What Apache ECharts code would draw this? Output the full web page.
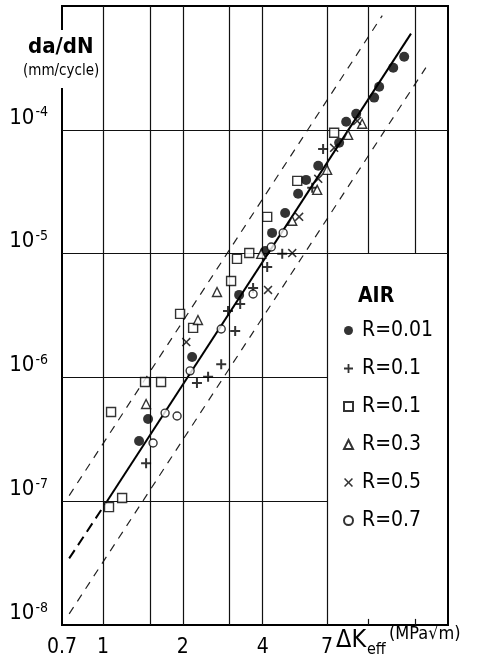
<!DOCTYPE html>
<html>
<head>
<meta charset="utf-8">
<script src="https://cdn.jsdelivr.net/npm/echarts@6/dist/echarts.min.js"></script>
<style>
html, body { margin: 0; padding: 0; background: #fff; }
#main { width: 487px; height: 663px; }
</style>
</head>
<body>
<div id="main"></div>
<script>
// tick labels and grid positions
var xTicks = [0.7, 1, 2, 4, 7];
var yTicks = [1e-8, 1e-7, 1e-6, 1e-5, 1e-4];
var xGridFull = [1, 1.5, 2, 3, 4, 7];
var xGridTop = [10, 15];
var yGridFull = [1e-5, 1e-4];
var yGridLeft = [1e-7, 1e-6];

// data: [dK_eff, da/dN]
var r001 = [[1.367, 3.06e-7], [1.478, 4.61e-7], [2.167, 1.46e-6], [3.26, 4.64e-6], [4.09, 1.05e-5],
  [4.34, 1.47e-5], [4.86, 2.13e-5], [5.44, 3.04e-5], [5.83, 3.94e-5], [6.48, 5.12e-5], [7.77, 7.85e-5],
  [8.26, 1.16e-4], [9.01, 1.35e-4], [10.53, 1.82e-4], [11.0, 2.23e-4], [12.43, 3.17e-4], [13.67, 3.89e-4]];
var r01plus = [[1.453, 2.03e-7], [2.26, 9.02e-7], [2.49, 1.01e-6], [2.79, 1.28e-6], [2.96, 3.44e-6],
  [3.15, 2.37e-6], [3.29, 3.92e-6], [3.68, 5.28e-6], [4.16, 7.8e-6], [4.74, 9.95e-6], [6.15, 3.4e-5], [6.76, 7.0e-5]];
var r01sq = [[1.053, 8.95e-8], [1.18, 1.06e-7], [1.072, 5.25e-7], [1.44, 9.18e-7], [1.655, 9.18e-7],
  [1.952, 3.26e-6], [2.186, 2.51e-6], [3.04, 6.01e-6], [3.20, 9.06e-6], [3.56, 1.01e-5], [4.16, 1.98e-5],
  [5.40, 3.87e-5], [7.44, 9.46e-5]];
var r03 = [[1.453, 6.1e-7], [2.28, 2.91e-6], [2.69, 4.9e-6], [3.95, 9.95e-6], [5.17, 1.84e-5],
  [6.42, 3.27e-5], [7.0, 4.75e-5], [8.40, 9.1e-5], [9.49, 1.12e-4]];
var r05 = [[2.06, 1.93e-6], [4.19, 5.09e-6], [5.17, 1.01e-5], [5.49, 1.98e-5], [6.48, 4.02e-5],
  [7.44, 7.15e-5], [9.09, 1.18e-4]];
var r07 = [[1.544, 2.95e-7], [1.714, 5.15e-7], [1.902, 4.88e-7], [2.13, 1.13e-6], [2.79, 2.46e-6],
  [3.68, 4.72e-6], [4.31, 1.13e-5], [4.78, 1.47e-5]];

// fitted band
var midLine = [[1.035, 1e-7], [14.5, 5.98e-4]];
var midExt = [[0.745, 3.45e-8], [1.035, 1e-7]];
var upperLine = [[0.745, 1.11e-7], [11.3, 8.37e-4]];
var lowerLine = [[0.745, 1.23e-8], [16.5, 3.18e-4]];

var FONT = "'Liberation Sans Narrow','DejaVu Sans Condensed','Liberation Sans',sans-serif";
var PLUS = 'path://M4,0H6V4H10V6H6V10H4V6H0V4H4Z';
var CROSS = 'path://M1.2,0L5,3.8L8.8,0L10,1.2L6.2,5L10,8.8L8.8,10L5,6.2L1.2,10L0,8.8L3.8,5L0,1.2Z';

var gridLines = [];
xGridFull.forEach(function (v) { gridLines.push({ xAxis: v }); });
xGridTop.forEach(function (v) {
  gridLines.push([{ coord: [v, 1e-5] }, { coord: [v, 1e-3] }]);
  gridLines.push([{ coord: [v, 1e-8] }, { coord: [v, 1.12e-8] }]);
});
yGridFull.forEach(function (v) { gridLines.push([{ coord: [0.7, v] }, { coord: [20, v] }]); });
yGridLeft.forEach(function (v) { gridLines.push([{ coord: [0.7, v] }, { coord: [7, v] }]); });

function pts(name, data, symbol, size, filled) {
  return {
    name: name, type: 'scatter', data: data, symbol: symbol, symbolSize: size, z: 5,
    itemStyle: filled ? { color: '#000' } : { color: '#fff', borderColor: '#000', borderWidth: 1.4 }
  };
}

var chart = echarts.init(document.getElementById('main'));
chart.setOption({
  animation: false,
  backgroundColor: '#fff',
  grid: { left: 62, right: 39, top: 6, bottom: 38, show: true, borderColor: '#000', borderWidth: 2 },
  xAxis: {
    type: 'log', logBase: 10, min: 0.7, max: 20,
    axisLine: { show: false }, axisTick: { show: false }, splitLine: { show: false },
    axisLabel: {
      customValues: xTicks, margin: 12, color: '#000', fontFamily: FONT, fontSize: 21,
      formatter: function (v) { return String(+(+v).toPrecision(3)); }
    }
  },
  yAxis: {
    type: 'log', logBase: 10, min: 1e-8, max: 1e-3,
    axisLine: { show: false }, axisTick: { show: false }, splitLine: { show: false },
    axisLabel: {
      customValues: yTicks, margin: 14, color: '#000', verticalAlign: 'bottom',
      formatter: function (v) { return '{a|10}{b|' + Math.round(Math.log10(v)) + '}'; },
      rich: {
        a: { fontFamily: FONT, fontSize: 22, color: '#000' },
        b: { fontFamily: FONT, fontSize: 14, color: '#000', verticalAlign: 'top', padding: [0, 0, 10, 1] }
      }
    }
  },
  legend: {
    orient: 'vertical', left: 338, top: 315, itemGap: 17, itemWidth: 9, itemHeight: 9,
    selectedMode: false,
    data: ['R=0.01', 'R=0.1 plus', 'R=0.1 sq', 'R=0.3', 'R=0.5', 'R=0.7'],
    formatter: function (n) { return n.split(' ')[0]; },
    textStyle: { fontFamily: FONT, fontSize: 21, color: '#000', padding: [0, 0, 0, 4] }
  },
  graphic: [
    { type: 'rect', z: 100, shape: { x: 56, y: 30, width: 14, height: 58 }, style: { fill: '#fff' } },
    { type: 'text', z: 101, left: 28, top: 36, style: { text: 'da/dN', font: 'bold 22px ' + FONT, fill: '#000' } },
    { type: 'text', z: 101, left: 23, top: 63, style: { text: '(mm/cycle)', font: '15px ' + FONT, fill: '#000', backgroundColor: '#fff', padding: [1, 0, 6, 0] } },
    { type: 'text', z: 101, left: 358, top: 286, style: { text: 'AIR', font: 'bold 21px ' + FONT, fill: '#000' } },
    { type: 'text', z: 101, left: 336, top: 628, style: { text: 'ΔK', font: '25px ' + FONT, fill: '#000' } },
    { type: 'text', z: 101, left: 367, top: 642, style: { text: 'eff', font: '16px ' + FONT, fill: '#000' } },
    { type: 'text', z: 101, left: 389, top: 625, style: { text: '(MPa√m)', font: '18px ' + FONT, fill: '#000' } }
  ],
  series: [
    {
      type: 'line', data: upperLine, symbol: 'none', silent: true, z: 3,
      lineStyle: { color: '#222', width: 1.2, type: [8, 7] },
      markLine: {
        silent: true, symbol: ['none', 'none'], label: { show: false },
        lineStyle: { color: '#111', width: 1.2, type: 'solid' },
        data: gridLines
      }
    },
    { type: 'line', data: lowerLine, symbol: 'none', silent: true, z: 3, lineStyle: { color: '#222', width: 1.2, type: [8, 7] } },
    { type: 'line', data: midLine, symbol: 'none', silent: true, z: 3, lineStyle: { color: '#000', width: 2 } },
    { type: 'line', data: midExt, symbol: 'none', silent: true, z: 3, lineStyle: { color: '#000', width: 2, type: [10, 6] } },
    pts('R=0.01', r001, 'circle', 10, true),
    pts('R=0.1 plus', r01plus, PLUS, 10, true),
    pts('R=0.1 sq', r01sq, 'rect', 9, false),
    pts('R=0.3', r03, 'triangle', 9, false),
    pts('R=0.5', r05, CROSS, 9, true),
    pts('R=0.7', r07, 'circle', 8, false)
  ]
});
</script>
</body>
</html>
